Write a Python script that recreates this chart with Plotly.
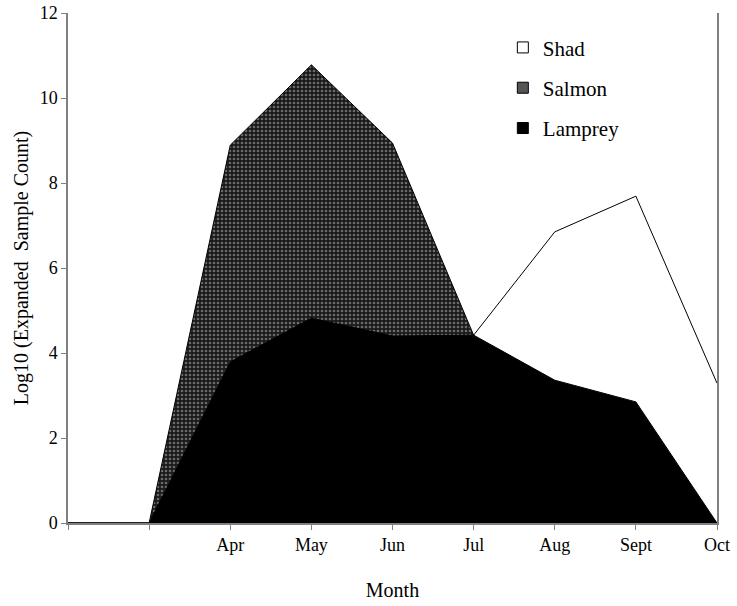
import plotly.graph_objects as go

categories = ["", "", "Apr", "May", "Jun", "Jul", "Aug", "Sept", "Oct"]
shad = [0, 0, 1.5, 2.5, 3.5, 4.42, 6.85, 7.69, 3.29]
salmon = [0, 0, 8.89, 10.78, 8.94, 4.42, 1.5, 1.0, 0]
lamprey = [0, 0, 3.79, 4.82, 4.4, 4.42, 3.36, 2.85, 0]
y_ticks = [0, 2, 4, 6, 8, 10, 12]

x = list(range(len(categories)))
FONT = "Liberation Serif"

fig = go.Figure()
fig.add_trace(go.Scatter(x=x, y=shad, mode="lines", fill="tozeroy",
                         fillcolor="white", line=dict(color="black", width=1),
                         showlegend=False, hoverinfo="skip"))
fig.add_trace(go.Scatter(x=x, y=salmon, mode="lines", fill="tozeroy",
                         fillcolor="#333333",
                         fillpattern=dict(shape=".", bgcolor="#1a1a1a", fgcolor="#bbbbbb",
                                          size=4, solidity=0.35),
                         line=dict(color="black", width=1),
                         showlegend=False, hoverinfo="skip"))
fig.add_trace(go.Scatter(x=x, y=lamprey, mode="lines", fill="tozeroy",
                         fillcolor="black", line=dict(color="black", width=1),
                         showlegend=False, hoverinfo="skip"))

legend_items = [("Shad", "white"), ("Salmon", "#555555"), ("Lamprey", "black")]
for name, col in legend_items:
    fig.add_trace(go.Scatter(x=[None], y=[None], mode="markers", name=name,
                             legendgroup=name,
                             marker=dict(symbol="square", size=11, color=col,
                                         line=dict(color="black", width=1))))

fig.update_layout(
    width=737, height=606,
    margin=dict(l=68, r=20, t=13, b=83, autoexpand=False),
    paper_bgcolor="white", plot_bgcolor="white",
    font=dict(family=FONT, size=18, color="black"),
    showlegend=True,
    legend=dict(x=0.67, y=0.972, xanchor="left", yanchor="top",
                font=dict(family=FONT, size=21), tracegroupgap=10,
                itemwidth=30, bgcolor="rgba(0,0,0,0)"),
    xaxis=dict(range=[0, 8], tickmode="array", tickvals=x, ticktext=categories,
               showgrid=False, zeroline=False, showline=True, linecolor="#808080",
               linewidth=1.5, ticks="outside", ticklen=5, tickcolor="#808080",
               tickfont=dict(family=FONT, size=18), automargin=False,
               title=dict(text="Month", font=dict(family=FONT, size=20), standoff=29)),
    yaxis=dict(range=[0, 12], tickvals=y_ticks, showgrid=False, zeroline=False,
               showline=True, linecolor="#808080", linewidth=1.5, mirror=True,
               ticks="outside", ticklen=5, tickcolor="#808080",
               tickfont=dict(family=FONT, size=18), automargin=False,
               title=dict(text="Log10 (Expanded\u00a0 Sample Count)",
                          font=dict(family=FONT, size=20), standoff=6)),
)
fig.write_html("out.html", config={"displayModeBar": False},
               post_script="document.body.style.margin='0';document.body.style.overflow='hidden';")
